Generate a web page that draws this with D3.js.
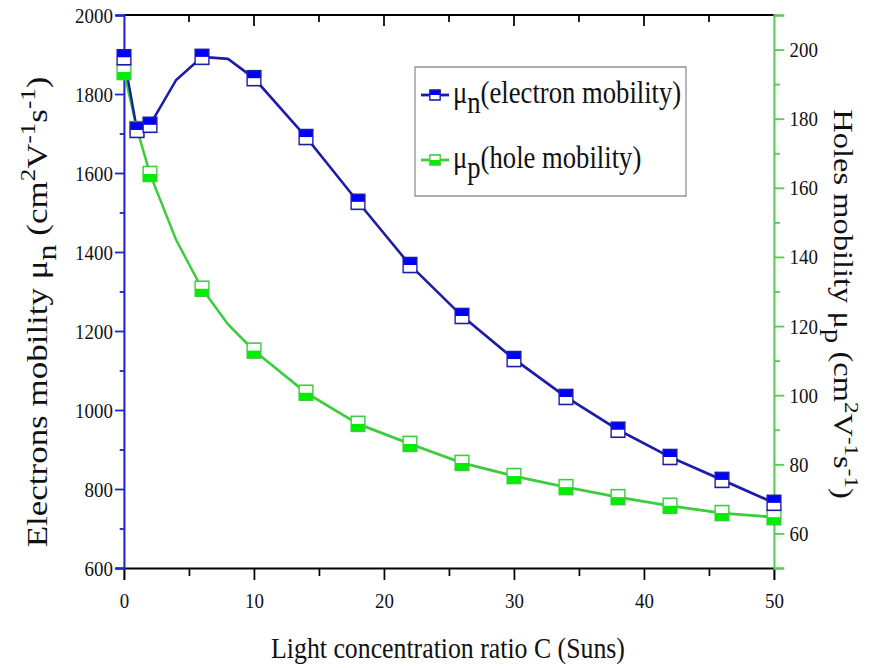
<!DOCTYPE html>
<html>
<head>
    <script src="https://d3js.org/d3.v7.min.js"></script>
    <style>
        body { margin: 0; background: #fff; }
        text { font-family: "Liberation Serif", "Times New Roman", serif; fill: #111; }
    </style>
</head>
<body>
    <svg width="875" height="668"></svg>
    <script>
        // light concentration ratio C (Suns)
        const conc = [0, 1, 2, 4, 6, 8, 10, 14, 18, 22, 26, 30, 34, 38, 42, 46, 50];
        // electron mobility, left axis (cm2 V-1 s-1)
        const muN = [1893, 1709, 1722, 1835, 1894, 1889, 1840, 1691, 1527, 1367, 1238, 1129, 1033, 950, 881, 823, 765];
        // hole mobility, right axis (cm2 V-1 s-1)
        const muP = [193.5, 177, 164, 145, 130.8, 120.5, 112.9, 100.7, 91.7, 85.9, 80.4, 76.6, 73.4, 70.5, 68, 65.9, 64.7];
        // points drawn without a symbol
        const noSymbol = [4, 8];

        const xTicks = [0, 10, 20, 30, 40, 50];
        const leftTicks = [600, 800, 1000, 1200, 1400, 1600, 1800, 2000];
        const rightTicks = [60, 80, 100, 120, 140, 160, 180, 200];

        // the original figure is squeezed horizontally, so draw wide and scale x
        const sx = 0.86;
        const U = px => px / sx;

        const pLeft = U(124), pRight = U(774), pTop = 15, pBottom = 568;
        const svg = d3.select("svg");
        const root = svg.append("g").attr("transform", "scale(" + sx + ",1)");

        const x = d3.scaleLinear().domain([0, 50]).range([pLeft, pRight]);
        const yL = d3.scaleLinear().domain([600, 2000]).range([pBottom, pTop]);
        const yR = d3.scaleLinear().domain([50, 210]).range([pBottom, pTop]);

        const blueLine = "#1c1ca8", blueFill = "#0000ff", blueAxis = "#2323c8";
        const greenLine = "#3ccc3c", greenFill = "#00ee00", greenAxis = "#55cc55";

        // top frame line with inward ticks
        root.append("line").attr("x1", pLeft).attr("x2", pRight).attr("y1", pTop).attr("y2", pTop)
            .attr("stroke", "#000").attr("stroke-width", 1.8);
        root.selectAll(".ttick").data(d3.range(5, 50, 5)).enter().append("line")
            .attr("x1", d => x(d)).attr("x2", d => x(d))
            .attr("y1", pTop).attr("y2", d => pTop + (d % 10 === 0 ? 11 : 7))
            .attr("stroke", "#000").attr("stroke-width", 2);

        // bottom axis
        const gx = root.append("g").attr("transform", "translate(0," + pBottom + ")")
            .call(d3.axisBottom(x).tickValues(d3.range(0, 51, 5)).tickSize(12)
                .tickFormat(d => xTicks.includes(d) ? d : ""));
        gx.select(".domain").attr("stroke", "#000").attr("stroke-width", 1.8);
        gx.selectAll(".tick line").attr("stroke", "#000").attr("stroke-width", 2)
            .attr("y2", d => d % 10 === 0 ? 12 : 8);
        gx.selectAll(".tick text").attr("y", 24).style("font-size", "22px");

        // left axis
        const gl = root.append("g").attr("transform", "translate(" + pLeft + ",0)")
            .call(d3.axisLeft(yL).tickValues(d3.range(600, 2001, 100)).tickSize(10)
                .tickFormat(d => leftTicks.includes(d) ? d : ""));
        gl.select(".domain").attr("stroke", blueAxis).attr("stroke-width", 2.4);
        gl.selectAll(".tick line").attr("stroke", blueAxis).attr("stroke-width", 1.8)
            .attr("x2", d => d % 200 === 0 ? -10.5 : -5);
        gl.selectAll(".tick text").attr("x", -13).style("font-size", "22px");

        // right axis
        const gr = root.append("g").attr("transform", "translate(" + pRight + ",0)")
            .call(d3.axisRight(yR).tickValues(d3.range(50, 211, 10)).tickSize(12)
                .tickFormat(d => rightTicks.includes(d) ? d : ""));
        gr.select(".domain").attr("stroke", greenAxis).attr("stroke-width", 2.4);
        gr.selectAll(".tick line").attr("stroke", greenAxis).attr("stroke-width", 1.8)
            .attr("x2", d => d % 20 === 0 ? 12 : 7);
        gr.selectAll(".tick text").attr("x", 18).style("font-size", "22px");
        root.selectAll(".tick text").attr("fill", "#111")
            .style("font-family", "Liberation Serif");

        // lines
        const pts = conc.map((c, i) => ({ c: c, n: muN[i], p: muP[i] }));
        root.append("path").datum(pts)
            .attr("d", d3.line().x(d => x(d.c)).y(d => yR(d.p)))
            .attr("fill", "none").attr("stroke", greenLine).attr("stroke-width", 2.8);
        root.append("path").datum(pts)
            .attr("d", d3.line().x(d => x(d.c)).y(d => yL(d.n)))
            .attr("fill", "none").attr("stroke", blueLine).attr("stroke-width", 2.8);

        // half-filled square symbols
        function symbol(g, cx, cy, w, h, fillTop, fill, stroke) {
            g.append("rect").attr("x", cx - w / 2).attr("y", cy - h / 2)
                .attr("width", w).attr("height", h).attr("fill", "#fff");
            g.append("rect").attr("x", cx - w / 2).attr("y", fillTop ? cy - h / 2 : cy)
                .attr("width", w).attr("height", h / 2).attr("fill", fill);
            g.append("rect").attr("x", cx - w / 2).attr("y", cy - h / 2)
                .attr("width", w).attr("height", h)
                .attr("fill", "none").attr("stroke", stroke).attr("stroke-width", 1.6);
        }
        const sym = pts.filter(d => !noSymbol.includes(d.c));
        const gs = root.append("g");
        sym.forEach(d => symbol(gs, x(d.c), yR(d.p), 16, 15, false, greenFill, greenLine));
        sym.forEach(d => symbol(gs, x(d.c), yL(d.n), 16, 15, true, blueFill, blueLine));

        // legend
        const lg = root.append("g");
        lg.append("rect").attr("x", U(415)).attr("y", 67).attr("width", U(686) - U(415)).attr("height", 129)
            .attr("fill", "#fff").attr("stroke", "#777").attr("stroke-width", 1.2);
        const legend = [
            { sub: "n", label: "(electron mobility)", line: blueLine, fill: blueFill, topFill: true, y: 95 },
            { sub: "p", label: "(hole mobility)", line: greenLine, fill: greenFill, topFill: false, y: 160 }
        ];
        legend.forEach(d => {
            lg.append("line").attr("x1", U(421)).attr("x2", U(449)).attr("y1", d.y).attr("y2", d.y)
                .attr("stroke", d.line).attr("stroke-width", 2.8);
            symbol(lg, U(435), d.y, 12, 10, d.topFill, d.fill, d.line);
            const t = lg.append("text").attr("x", U(453)).attr("y", d.y + 8).style("font-size", "31px");
            t.append("tspan").text("\u03bc");
            t.append("tspan").attr("dy", 10).text(d.sub);
            t.append("tspan").attr("dy", -10).text(d.label);
        });

        // axis titles
        root.append("text").attr("x", U(448)).attr("y", 658).attr("text-anchor", "middle")
            .style("font-size", "30px").text("Light concentration ratio C (Suns)");

        function unitTitle(t, name, sub, fs) {
            const sup = Math.round(fs * 0.72) + "px";
            const up = Math.round(fs * 0.4), down = Math.round(fs * 0.3);
            t.style("font-size", fs + "px");
            t.append("tspan").text(name + " mobility \u03bc");
            t.append("tspan").attr("dy", down).style("font-size", Math.round(fs * 0.9) + "px").text(sub);
            t.append("tspan").attr("dy", -down).text(" (cm");
            t.append("tspan").attr("dy", -up).style("font-size", sup).text("2");
            t.append("tspan").attr("dy", up).text("V");
            t.append("tspan").attr("dy", -up).style("font-size", sup).text("-1");
            t.append("tspan").attr("dy", up).text("s");
            t.append("tspan").attr("dy", -up).style("font-size", sup).text("-1");
            t.append("tspan").attr("dy", up).text(")");
        }
        const lt = root.append("text").attr("transform", "translate(" + U(47) + ",312) rotate(-90)")
            .attr("text-anchor", "middle");
        unitTitle(lt, "Electrons", "n", 35);
        const rt = root.append("text").attr("transform", "translate(" + U(834) + ",304) rotate(90)")
            .attr("text-anchor", "middle");
        unitTitle(rt, "Holes", "p", 32.5);
    </script>
</body>
</html>
